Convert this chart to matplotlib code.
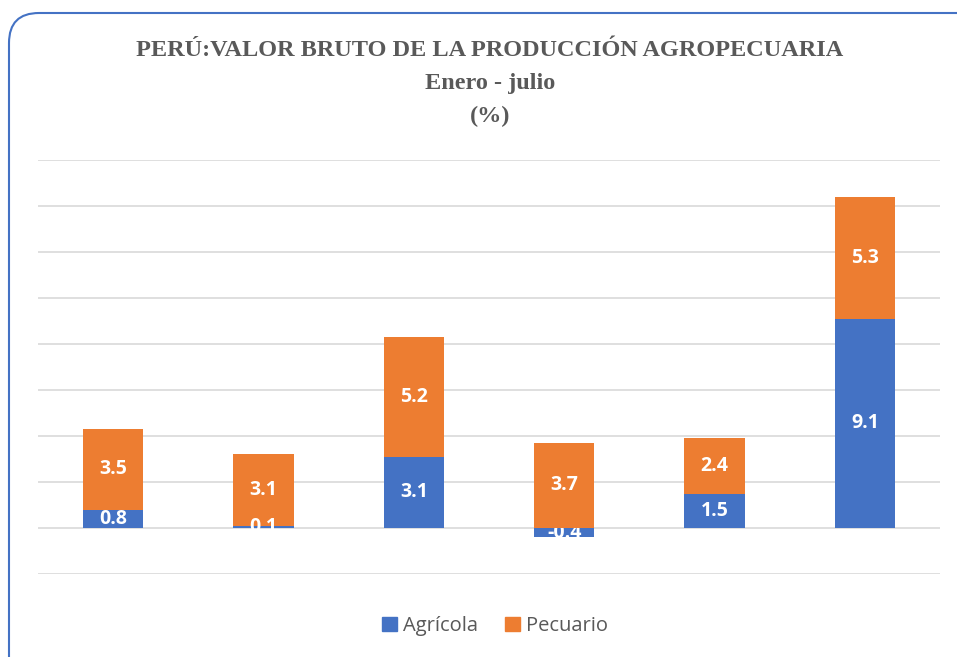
import matplotlib
matplotlib.use("Agg")
import matplotlib.pyplot as plt
import matplotlib.patches as mpatches
import numpy as np

categories = ["1", "2", "3", "4", "5", "6"]
agricola = [0.8, 0.1, 3.1, -0.4, 1.5, 9.1]
pecuario = [3.5, 3.1, 5.2, 3.7, 2.4, 5.3]
series_names = ["Agrícola", "Pecuario"]
title_lines = ["PERÚ:VALOR BRUTO DE LA PRODUCCIÓN AGROPECUARIA", "Enero - julio", "(%)"]

BLUE = "#4472C4"
ORANGE = "#ED7D31"
GRAY = "#595959"

W, H = 957, 657
fig = plt.figure(figsize=(W / 100, H / 100), dpi=100)

# rounded border
border = mpatches.FancyBboxPatch((9, -60), 1050, (H - 13) + 60,
                                 boxstyle="round,pad=0,rounding_size=30",
                                 transform=None, fill=False, edgecolor=BLUE, linewidth=1.5)
fig.patches.append(border)

ax = fig.add_axes([38 / W, (H - 574) / H, (940 - 38) / W, (574 - 160) / H])
x = np.arange(len(categories))
bw = 0.4
ax.bar(x, agricola, width=bw, color=BLUE, zorder=2)
pos_bottom = [max(a, 0) for a in agricola]
ax.bar(x, pecuario, width=bw, bottom=pos_bottom, color=ORANGE, zorder=3)

ax.set_xlim(-0.5, len(categories) - 0.5)
ax.set_ylim(-2, 16)
ax.set_yticks(np.arange(-2, 17, 2))
ax.yaxis.grid(True, color="#d9d9d9", linewidth=1.2, zorder=0)
ax.set_axisbelow(True)
ax.tick_params(left=False, bottom=False, labelleft=False, labelbottom=False)
for s in ax.spines.values():
    s.set_visible(False)

lab_font = dict(family=["Open Sans", "DejaVu Sans"], fontsize=14, fontweight="bold", color="white",
                ha="center", va="center")
for xi, a in zip(x, agricola):
    ax.text(xi, a / 2, f"{a:.1f}", zorder=4 if a >= 0 else 2.5, **lab_font)
for xi, b, p in zip(x, pos_bottom, pecuario):
    ax.text(xi, b + p / 2, f"{p:.1f}", zorder=5, **lab_font)

tfont = dict(family=["Liberation Serif", "DejaVu Serif"], fontweight="bold", color=GRAY,
             fontsize=17.5, ha="center", va="center")
for i, line in enumerate(title_lines):
    fig.text(490 / W, 1 - (50 + 33 * i) / H, line, **tfont)

handles = [mpatches.Patch(color=BLUE), mpatches.Patch(color=ORANGE)]
fig.legend(handles, series_names, loc="center", bbox_to_anchor=(495 / W, 1 - 626 / H),
           ncol=2, frameon=False, handlelength=0.75, handleheight=0.75, handletextpad=0.3,
           columnspacing=1.3, prop=dict(family=["Open Sans", "DejaVu Sans"], size=14.5),
           labelcolor=GRAY)

fig.savefig("out.png", dpi=100)
